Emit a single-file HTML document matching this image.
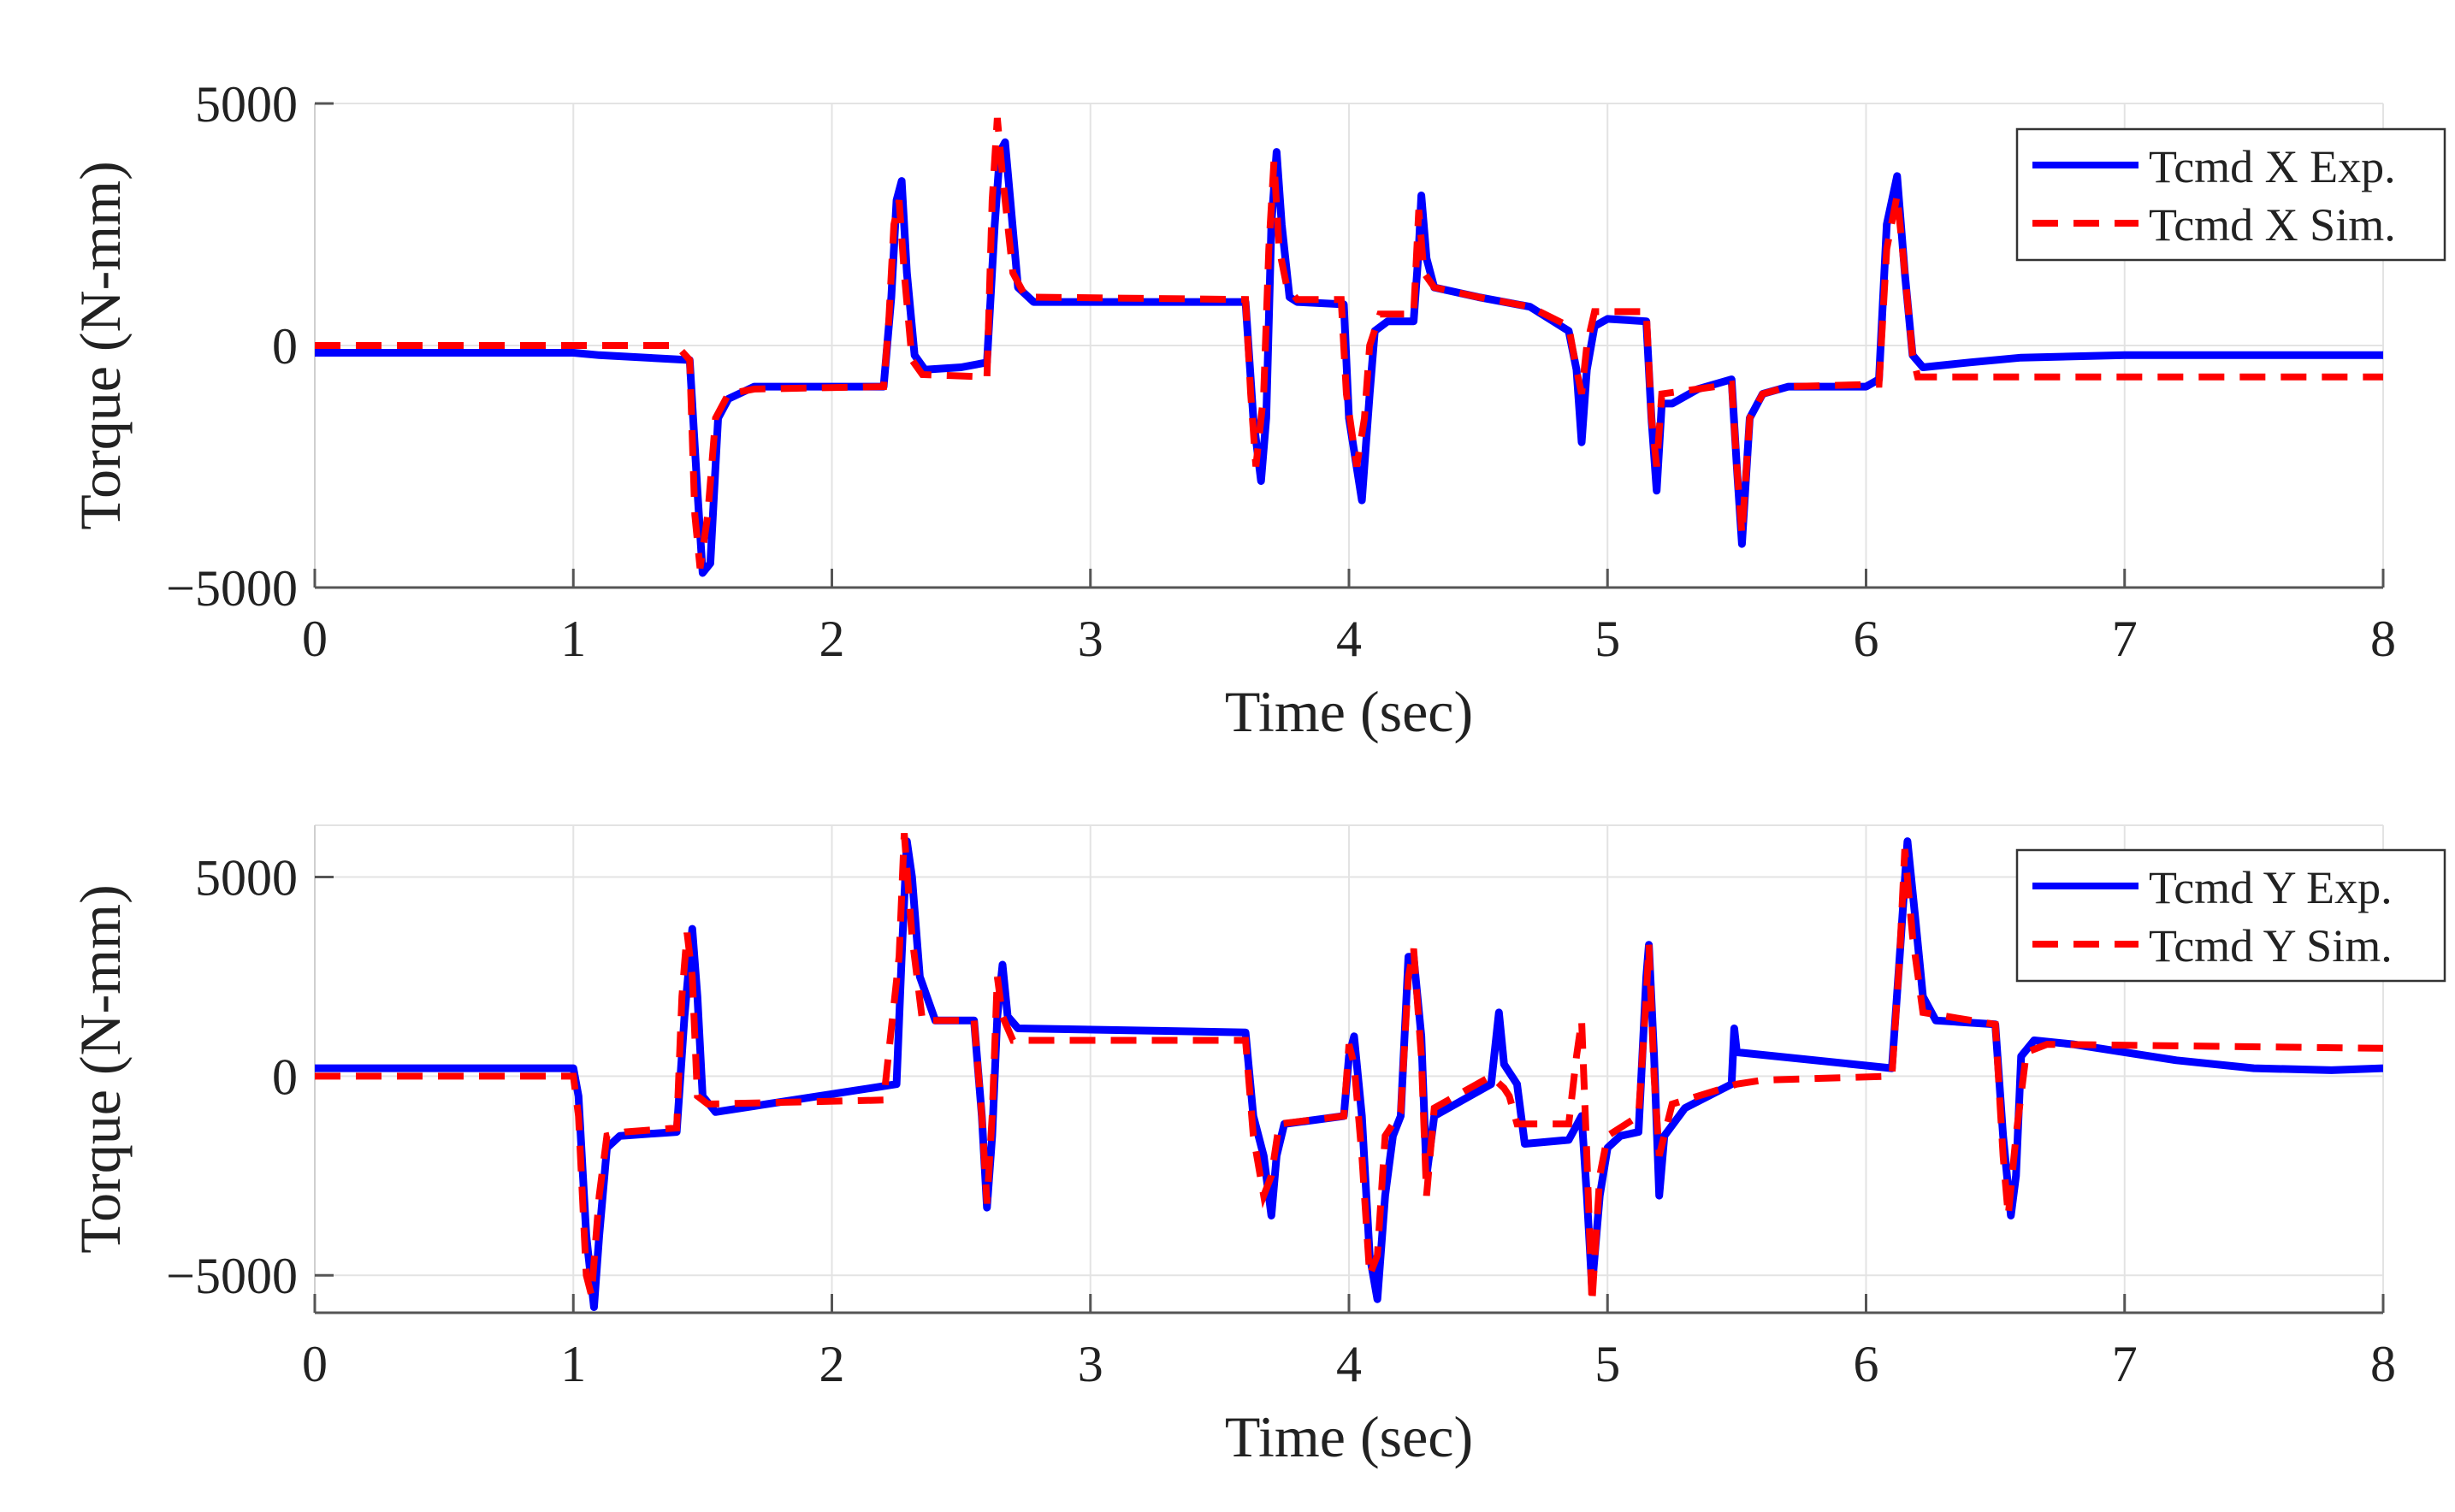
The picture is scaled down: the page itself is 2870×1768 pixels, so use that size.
<!DOCTYPE html>
<html><head><meta charset="utf-8">
<style>
html,body{margin:0;padding:0;background:#fff;}
svg{display:block;font-family:"Liberation Serif",serif;}
</style></head>
<body>
<svg id="chart" width="2870" height="1768" viewBox="0 0 2870 1768" xmlns="http://www.w3.org/2000/svg"></svg>
<script>
// ---- data ----
const xTicks = [0,1,2,3,4,5,6,7,8];
const yTicksTop = [-5000,0,5000];
const yTicksBot = [-5000,0,5000];
const tXExp = [0,1.0,1.1,1.45,1.48,1.5,1.53,1.56,1.6,1.7,2.2,2.23,2.25,2.27,2.29,2.32,2.36,2.5,2.6,2.63,2.65,2.67,2.69,2.72,2.78,3.6,3.63,3.66,3.68,3.7,3.72,3.74,3.77,3.8,3.98,4.0,4.05,4.08,4.1,4.15,4.25,4.27,4.28,4.3,4.33,4.5,4.7,4.85,4.88,4.9,4.92,4.95,5.0,5.15,5.17,5.19,5.21,5.25,5.35,5.48,5.5,5.52,5.55,5.6,5.7,6.0,6.05,6.08,6.12,6.15,6.18,6.22,6.4,6.6,7.0,8.0];
const vXExp = [-150,-150,-200,-300,-3000,-4700,-4500,-1500,-1100,-850,-850,1000,3000,3400,1500,-200,-500,-450,-350,2500,4000,4200,3000,1200,900,900,-1500,-2800,-1500,2500,4000,2500,1000,900,850,-1500,-3200,-1000,300,500,500,2000,3100,1800,1200,1000,800,300,-500,-2000,-500,400,550,500,-1500,-3000,-1200,-1200,-900,-700,-2500,-4100,-1500,-1000,-850,-850,-700,2500,3500,1500,-200,-450,-350,-250,-200,-200];
const tXSim = [0,1.4,1.45,1.47,1.49,1.52,1.55,1.6,1.7,2.2,2.22,2.24,2.26,2.28,2.31,2.35,2.6,2.62,2.64,2.66,2.7,2.75,3.6,3.62,3.64,3.67,3.69,3.71,3.73,3.76,3.8,3.97,3.99,4.03,4.06,4.08,4.12,4.25,4.27,4.29,4.33,4.5,4.7,4.85,4.88,4.9,4.92,4.95,5.15,5.17,5.19,5.21,5.35,5.48,5.5,5.52,5.55,5.6,5.7,6.05,6.08,6.12,6.15,6.18,6.2,8];
const vXSim = [0,0,-300,-3500,-4600,-3500,-1500,-1000,-900,-850,500,2500,3000,1500,-300,-600,-650,3000,4700,3500,1500,1000,950,-1000,-2500,-1000,2000,3800,2000,1200,950,950,-1000,-2500,-1500,0,650,650,2800,1500,1200,1000,800,400,-500,-1000,0,700,700,-1500,-2500,-1000,-900,-800,-2500,-3900,-1500,-1000,-850,-800,2000,3100,1500,-200,-650,-650];
const tYExp = [0,1.0,1.02,1.05,1.08,1.1,1.13,1.18,1.4,1.43,1.46,1.48,1.5,1.55,2.25,2.27,2.29,2.31,2.34,2.4,2.55,2.58,2.6,2.62,2.64,2.66,2.68,2.72,3.6,3.63,3.67,3.7,3.72,3.75,3.98,4.0,4.02,4.05,4.08,4.11,4.14,4.17,4.2,4.23,4.25,4.28,4.3,4.33,4.55,4.58,4.6,4.65,4.68,4.85,4.9,4.92,4.94,4.97,5.0,5.05,5.12,5.15,5.16,5.18,5.2,5.22,5.3,5.48,5.49,5.5,6.1,6.13,6.16,6.19,6.22,6.27,6.5,6.53,6.56,6.58,6.6,6.65,6.8,7.2,7.5,7.8,8.0];
const vYExp = [200,200,-500,-4000,-5800,-4000,-1800,-1500,-1400,1500,3700,2000,-500,-900,-200,3000,5900,5000,2500,1400,1400,-1000,-3300,-1500,1500,2800,1500,1200,1100,-1000,-2000,-3500,-2000,-1200,-1000,500,1000,-1000,-4500,-5600,-3000,-1500,-1000,3000,3000,1000,-2500,-1000,-200,1600,300,-200,-1700,-1600,-1000,-3000,-5300,-3000,-1800,-1500,-1400,2500,3300,500,-3000,-1500,-800,-200,1200,600,200,3000,5900,4000,2000,1400,1300,-1500,-3500,-2500,500,900,800,400,200,150,200];
const tYSim = [0,1.0,1.02,1.05,1.07,1.1,1.13,1.2,1.4,1.42,1.44,1.46,1.48,1.52,2.2,2.26,2.28,2.31,2.35,2.55,2.58,2.6,2.62,2.64,2.66,2.7,3.6,3.63,3.67,3.7,3.73,3.98,4.0,4.02,4.05,4.08,4.11,4.14,4.2,4.23,4.25,4.28,4.3,4.33,4.55,4.6,4.62,4.65,4.85,4.88,4.9,4.92,4.94,4.97,5.0,5.12,5.15,5.16,5.18,5.2,5.25,5.5,5.6,6.1,6.13,6.15,6.18,6.22,6.5,6.53,6.55,6.58,6.62,6.7,8];
const vYSim = [0,0,-1000,-5000,-5500,-3000,-1500,-1400,-1300,2000,3600,2500,-500,-700,-600,3000,6100,3500,1400,1400,-1000,-3200,-1000,2500,1500,900,900,-1500,-3000,-2500,-1200,-1000,800,300,-2000,-5000,-4500,-1500,-900,2500,3200,500,-3000,-800,0,-300,-500,-1200,-1200,500,1400,-2000,-5700,-2500,-1500,-1000,2000,3300,0,-2000,-700,-200,-100,0,3000,5700,3500,1600,1300,-2000,-3500,-1500,600,800,700];

const svg = document.getElementById('chart');
const NS = 'http://www.w3.org/2000/svg';
function mk(tag, attrs, parent){const e=document.createElementNS(NS,tag);for(const k in attrs)e.setAttribute(k,attrs[k]);(parent||svg).appendChild(e);return e;}

function panel(cfg){
  const g = mk('g',{});
  
  
  const X0=368,X1=2786;
  const sx = t => X0 + (t-0)/8*(X1-X0);
  const sy = v => cfg.yb - (v-cfg.ymin)/(cfg.ymax-cfg.ymin)*(cfg.yb-cfg.yt);
  xTicks.forEach(t=>{const l=mk('line',{x1:sx(t),x2:sx(t),y1:cfg.yt,y2:cfg.yb,stroke:'#e3e3e3','stroke-width':2},g);
    
    });
  cfg.yticks.forEach(v=>{const l=mk('line',{x1:X0,x2:X1,y1:sy(v),y2:sy(v),stroke:'#e3e3e3','stroke-width':2},g);
    
    });
  mk('line',{x1:X0,x2:X1,y1:cfg.yt,y2:cfg.yt,stroke:'#e3e3e3','stroke-width':2},g);
  mk('line',{x1:X0,x2:X0,y1:cfg.yt,y2:cfg.yb,stroke:'#cfcfcf','stroke-width':2},g);
  const ax=mk('line',{x1:X0,x2:X1,y1:cfg.yb,y2:cfg.yb,stroke:'#555','stroke-width':3},g);
  
  
  xTicks.forEach(t=>{
    mk('line',{x1:sx(t),x2:sx(t),y1:cfg.yb,y2:cfg.yb-22,stroke:'#555','stroke-width':3},g);
    const tx=mk('text',{x:sx(t),y:cfg.yb+80,'text-anchor':'middle','font-size':60,fill:'#222'},g);
    tx.textContent=t;
    
    
  });
  cfg.yticks.forEach(v=>{
    mk('line',{x1:X0,x2:X0+22,y1:sy(v),y2:sy(v),stroke:'#555','stroke-width':3},g);
    const tx=mk('text',{x:X0-20,y:sy(v)+21,'text-anchor':'end','font-size':60,fill:'#222'},g);
    tx.textContent=v<0?'\u2212'+Math.abs(v):String(v);
    
    
  });
  const xl=mk('text',{x:(X0+X1)/2,y:cfg.yb+168,'text-anchor':'middle','font-size':68,fill:'#222'},g);
  xl.textContent='Time (sec)';
  
  
  const ymid=(cfg.yt+cfg.yb)/2;
  const yl=mk('text',{x:0,y:0,'text-anchor':'middle','font-size':68,fill:'#222',transform:`translate(140,${ymid}) rotate(-90)`},g);
  yl.textContent='Torque (N-mm)';
  
  
  const cid='clip'+cfg.name;
  const cp=mk('clipPath',{id:cid},g);
  mk('rect',{x:X0,y:cfg.yt-4,width:X1-X0,height:cfg.yb-cfg.yt+8},cp);
  const pts=(ts,vs)=>ts.map((t,i)=>sx(t).toFixed(1)+','+sy(vs[i]).toFixed(1)).join(' ');
  const e=mk('polyline',{points:pts(cfg.te,cfg.ve),fill:'none',stroke:'#0000ff','stroke-width':9,'stroke-linejoin':'round','clip-path':`url(#${cid})`},g);
  
  
  const s=mk('polyline',{points:pts(cfg.ts,cfg.vs),fill:'none',stroke:'#ff0000','stroke-width':8,'stroke-dasharray':'30 18','clip-path':`url(#${cid})`},g);
  
  
  const lg=mk('g',{},g);
  
  
  mk('rect',{x:2358,y:cfg.ly,width:500,height:153,fill:'#fff',stroke:'#333','stroke-width':2.5},lg);
  mk('line',{x1:2376,x2:2500,y1:cfg.ly+42,y2:cfg.ly+42,stroke:'#0000ff','stroke-width':8},lg);
  mk('line',{x1:2376,x2:2500,y1:cfg.ly+110,y2:cfg.ly+110,stroke:'#ff0000','stroke-width':8,'stroke-dasharray':'30 18'},lg);
  const t1=mk('text',{x:2512,y:cfg.ly+62,'font-size':54,fill:'#222'},lg);
  t1.textContent=cfg.l1;
  
  
  const t2=mk('text',{x:2512,y:cfg.ly+130,'font-size':54,fill:'#222'},lg);
  t2.textContent=cfg.l2;
  
  
}
panel({name:'top-panel-x',yt:121,yb:687,ymin:-5000,ymax:5000,yticks:yTicksTop,te:tXExp,ve:vXExp,ts:tXSim,vs:vXSim,ly:151,l1:'Tcmd X Exp.',l2:'Tcmd X Sim.'});
panel({name:'bottom-panel-y',yt:965,yb:1535,ymin:-5940,ymax:6300,yticks:yTicksBot,te:tYExp,ve:vYExp,ts:tYSim,vs:vYSim,ly:994,l1:'Tcmd Y Exp.',l2:'Tcmd Y Sim.'});
</script>
</body></html>
